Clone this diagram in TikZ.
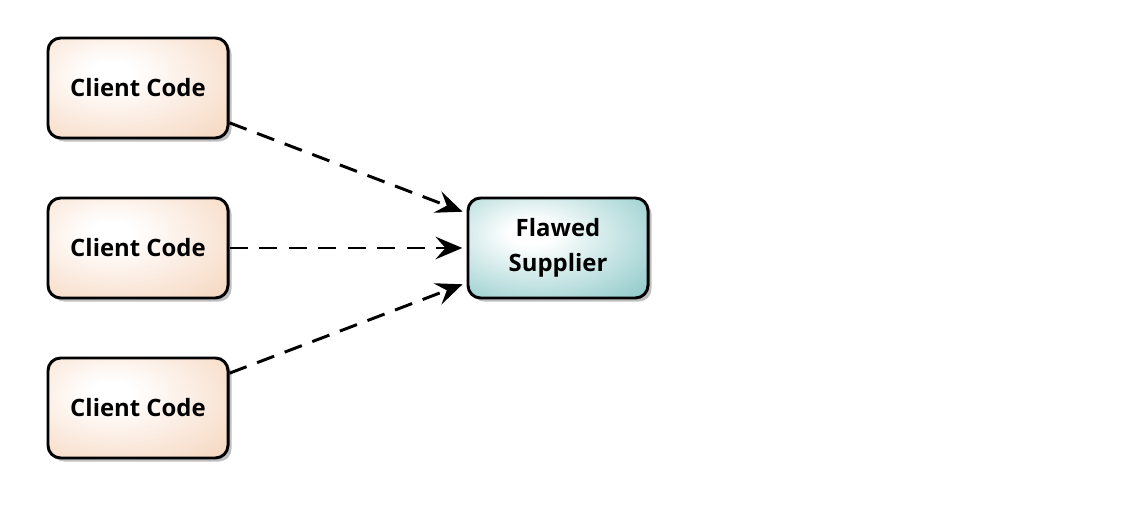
\documentclass[tikz,border=0pt]{standalone}
\usepackage{fontspec}
\setmainfont{Open Sans}
\usetikzlibrary{arrows.meta,positioning,shadows}

\definecolor{clientfill}{RGB}{246,214,190}
\definecolor{supplyfill}{RGB}{140,200,200}
\pgfdeclareradialshading{clientshade}{\pgfpoint{-8bp}{8bp}}{%
  color(0bp)=(white); color(6bp)=(white); color(42bp)=(clientfill); color(100bp)=(clientfill)}
\pgfdeclareradialshading{supplyshade}{\pgfpoint{-8bp}{8bp}}{%
  color(0bp)=(white); color(6bp)=(white); color(42bp)=(supplyfill); color(100bp)=(supplyfill)}

\begin{document}
\begin{tikzpicture}[
  x=0.025cm, y=-0.025cm,
  font=\bfseries\fontsize{17}{25}\selectfont,
  client/.style={draw, line width=2.1pt, rounded corners=9pt,
                 shading=clientshade,
                 drop shadow={shadow xshift=2.5pt, shadow yshift=-2.5pt, fill=black!50},
                 minimum width=4.5cm, minimum height=2.5cm, align=center},
  supplier/.style={client, shading=supplyshade},
  dep/.style={-{Stealth[length=19pt, width=16pt, inset=7pt]},
              line width=2.1pt, dash pattern=on 13pt off 8pt, shorten >=3pt},
]
  \useasboundingbox (0,0) rectangle (1138,524);

  \node[client]   (c1) at (138, 88)  {Client Code};
  \node[client]   (c2) at (138,248)  {Client Code};
  \node[client]   (c3) at (138,408)  {Client Code};
  \node[supplier] (fs) at (558,248)  {Flawed\\Supplier};

  \draw[dep] (c1) -- (fs);
  \draw[dep] (c2) -- (fs);
  \draw[dep] (c3) -- (fs);
\end{tikzpicture}
\end{document}
